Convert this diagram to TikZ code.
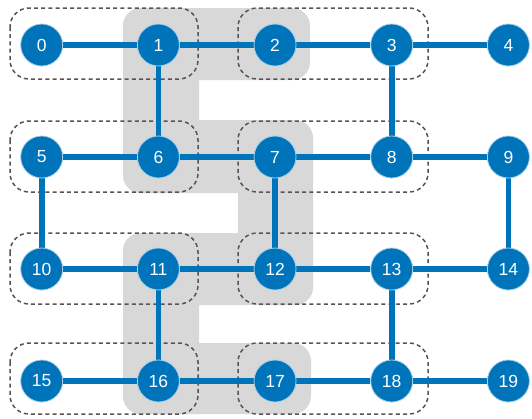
\documentclass[tikz,border=0pt]{standalone}
\usepackage{fontspec}
\setmainfont{Liberation Sans}
\usetikzlibrary{backgrounds}
\definecolor{nodeblue}{RGB}{0,116,186}
\definecolor{shade}{RGB}{216,216,216}
\definecolor{dashgrey}{RGB}{85,85,85}
\begin{document}
\begin{tikzpicture}[x=1pt,y=-1pt,
  vert/.style={circle,fill=nodeblue,draw=white!65!nodeblue,line width=0.8pt,minimum size=42pt,inner sep=0pt,text=white,font=\fontsize{17.5}{20}\selectfont},
  link/.style={nodeblue,line width=5.6pt},
  grp/.style={dashgrey,line width=1.5pt,dash pattern=on 4pt off 3.2pt,rounded corners=19pt},
  shadebox/.style={fill=shade,rounded corners=18pt}]
\useasboundingbox (0,0) rectangle (532,418);
\foreach \r in {0,...,3}{
  \foreach \c in {0,...,4}{
    \pgfmathtruncatemacro\k{5*\r+\c}
    \node[vert] (n\k) at ({41.7+116.67*\c},{45+112*\r}) {\k};
  }
}
\begin{pgfonlayer}{background}
  % shaded path 1-2 / 1-6 / 6-7 / 7-12 / 12-11 / 11-16 / 16-17
  \fill[shadebox] (123,8) rectangle (310,80);
  \fill[shadebox] (123,8) rectangle (199,193);
  \fill[shadebox] (123,120) rectangle (311,193);
  \fill[shadebox] (238,120) rectangle (313,305);
  \fill[shadebox] (123,233) rectangle (313,305);
  \fill[shadebox] (123,233) rectangle (199,414);
  \fill[shadebox] (123,343) rectangle (311,414);
  % dashed groups
  \foreach \y in {44,157,269,379}{
    \draw[grp] (10,{\y-36}) rectangle (198,{\y+35});
    \draw[grp] (238,{\y-36}) rectangle (428,{\y+35});
  }
  % connectors
  \foreach \a/\b in {0/1,1/2,2/3,3/4,1/6,3/8,5/6,6/7,7/8,8/9,5/10,7/12,9/14,
                     10/11,11/12,12/13,13/14,11/16,13/18,15/16,16/17,17/18,18/19}
    \draw[link] (n\a) -- (n\b);
\end{pgfonlayer}
\end{tikzpicture}
\end{document}
